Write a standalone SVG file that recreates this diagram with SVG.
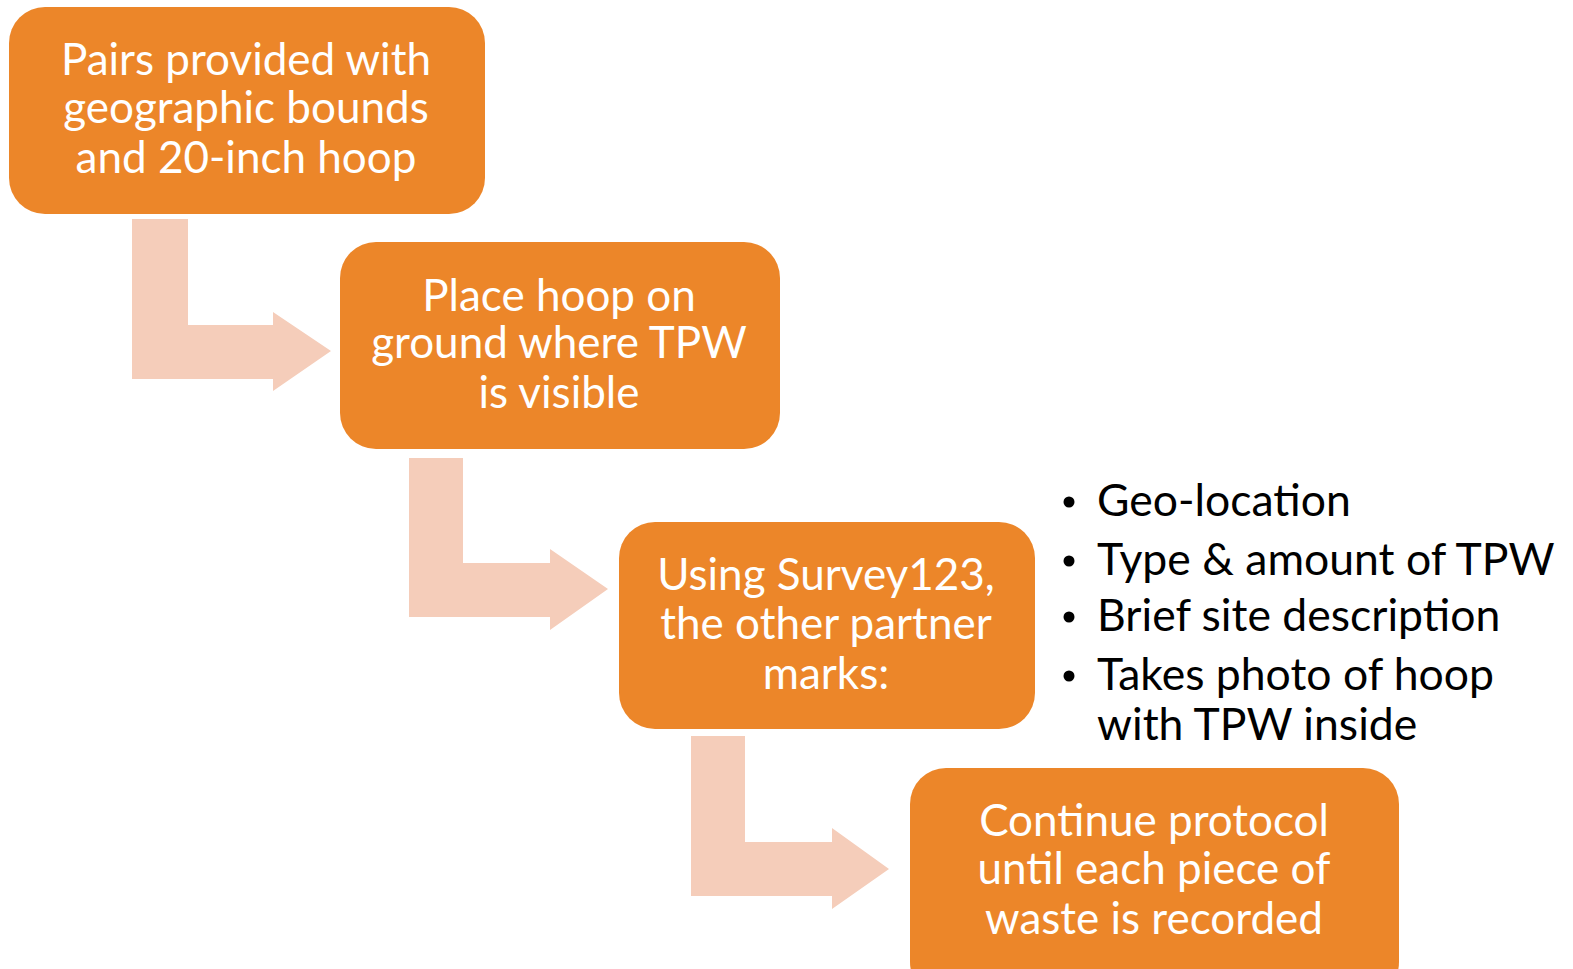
<svg xmlns="http://www.w3.org/2000/svg" width="1573" height="969" viewBox="0 0 1573 969">
<style>
.box{fill:#EC8629;}
.arr{fill:#F5CDBA;}
.t{font-family:"Lato","Open Sans","DejaVu Sans",sans-serif;font-size:44px;fill:#FFFFFF;text-anchor:middle;}
.b{font-family:"Lato","Open Sans","DejaVu Sans",sans-serif;font-size:44.5px;fill:#000000;}
</style>
<rect width="1573" height="969" fill="#FFFFFF"/>
<g id="connectors">
<path class="arr" d="M132 219 H188 V325 H273 V312 L331 351 L273 391 V379 H132 Z"/>
<path class="arr" d="M409 458 H463 V563 H550 V549 L608 589 L550 630 V617 H409 Z"/>
<path class="arr" d="M691 736 H745 V842 H832 V828 L889 869 L832 909 V896 H691 Z"/>
</g>
<g id="node1">
<rect class="box" x="9" y="7" width="476" height="207" rx="36"/>
<text class="t" x="246" y="75">Pairs provided with</text>
<text class="t" x="246" y="123">geographic bounds</text>
<text class="t" x="246" y="173">and 20-inch hoop</text>
</g>
<g id="node2">
<rect class="box" x="340" y="242" width="440" height="207" rx="36"/>
<text class="t" x="559" y="311">Place hoop on</text>
<text class="t" x="559" y="358">ground where TPW</text>
<text class="t" x="559" y="408">is visible</text>
</g>
<g id="node3">
<rect class="box" x="619" y="522" width="416" height="207" rx="36"/>
<text class="t" x="826" y="590">Using Survey123,</text>
<text class="t" x="826" y="639">the other partner</text>
<text class="t" x="826" y="689">marks:</text>
</g>
<g id="node4">
<rect class="box" x="910" y="768" width="489" height="230" rx="36"/>
<text class="t" x="1154" y="836">Continue protocol</text>
<text class="t" x="1154" y="884">until each piece of</text>
<text class="t" x="1154" y="934">waste is recorded</text>
</g>
<g id="bullets">
<circle cx="1069" cy="502" r="5.5"/>
<circle cx="1069" cy="561" r="5.5"/>
<circle cx="1069" cy="617" r="5.5"/>
<circle cx="1069" cy="676" r="5.5"/>
<text class="b" x="1097" y="516">Geo-location</text>
<text class="b" x="1097" y="575">Type &amp; amount of TPW</text>
<text class="b" x="1097" y="631">Brief site description</text>
<text class="b" x="1097" y="690">Takes photo of hoop</text>
<text class="b" x="1097" y="740">with TPW inside</text>
</g>
</svg>
